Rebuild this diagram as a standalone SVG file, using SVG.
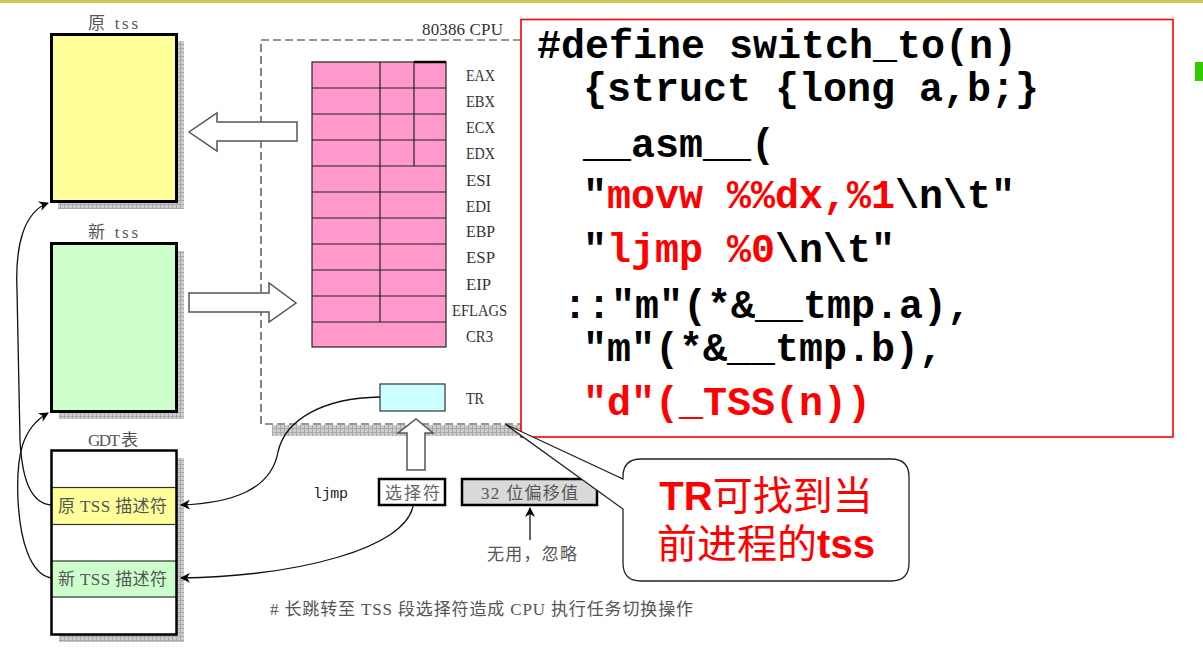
<svg xmlns="http://www.w3.org/2000/svg" width="1203" height="659" viewBox="0 0 1203 659">
<style>
.lbl{font-family:"Liberation Serif","Noto Sans CJK SC",serif;font-size:17px;fill:#555}
.reg{font-family:"Liberation Serif",serif;font-size:16px;fill:#333}
.code{font-family:"Liberation Mono",monospace;font-weight:bold;font-size:40px;fill:#000}
.red{fill:#ff0000}
.box{stroke:#000;stroke-width:3}
.cell{stroke:#222;stroke-width:1.2;fill:none}
.hollow{fill:#fff;stroke:#555;stroke-width:1.5}
.conn{fill:none;stroke:#111;stroke-width:1.3}
</style>
<defs>
<pattern id="hatch" width="4" height="4" patternUnits="userSpaceOnUse"><rect width="4" height="4" fill="#cdcdcd"/><path d="M0,0.5H4M0.5,0V4" stroke="#a9a9a9" stroke-width="1"/></pattern>
<marker id="ah" viewBox="0 0 10 10" refX="9" refY="5" markerWidth="10" markerHeight="10" markerUnits="userSpaceOnUse" orient="auto"><path d="M0,0 L10,5 L0,10 L3,5 z" fill="#000"/></marker>
</defs>
<rect width="1203" height="659" fill="#fff"/>
<rect x="0" y="0" width="1203" height="3" fill="#cccc55"/>
<rect x="1195" y="62" width="8" height="19" fill="#33cc00"/>

<!-- CPU -->
<g id="cpu">
<rect x="272" y="425" width="250" height="11" fill="url(#hatch)"/>
<rect x="261" y="40" width="300" height="384" fill="#fff" stroke="#333" stroke-width="1.2" stroke-dasharray="8,4"/>
<text x="422" y="35" class="lbl" style="fill:#333" textLength="81" lengthAdjust="spacing">80386 CPU</text>
</g>
<g id="registers">
<rect x="312" y="62" width="134" height="285" fill="#ff99cc" stroke="#222" stroke-width="1.2"/>
<path class="cell" d="M312,88H446M312,114H446M312,140H446M312,166H446M312,192H446M312,218H446M312,244H446M312,270H446M312,296H446M312,322H446M380,62V322M414,62V166"/>
<path d="M414,62H446" stroke="#000" stroke-width="2.5"/>
<text class="reg" x="466" y="81" textLength="29" lengthAdjust="spacingAndGlyphs">EAX</text>
<text class="reg" x="466" y="107" textLength="29" lengthAdjust="spacingAndGlyphs">EBX</text>
<text class="reg" x="466" y="133" textLength="29" lengthAdjust="spacingAndGlyphs">ECX</text>
<text class="reg" x="466" y="159" textLength="29" lengthAdjust="spacingAndGlyphs">EDX</text>
<text class="reg" x="466" y="186" textLength="25" lengthAdjust="spacingAndGlyphs">ESI</text>
<text class="reg" x="466" y="212" textLength="25" lengthAdjust="spacingAndGlyphs">EDI</text>
<text class="reg" x="466" y="237" textLength="29" lengthAdjust="spacingAndGlyphs">EBP</text>
<text class="reg" x="466" y="263" textLength="29" lengthAdjust="spacingAndGlyphs">ESP</text>
<text class="reg" x="466" y="290" textLength="25" lengthAdjust="spacingAndGlyphs">EIP</text>
<text class="reg" x="452" y="316" textLength="55" lengthAdjust="spacingAndGlyphs">EFLAGS</text>
<text class="reg" x="466" y="342" textLength="27" lengthAdjust="spacingAndGlyphs">CR3</text>
</g>
<g id="tr">
<rect x="380" y="384" width="65" height="27" fill="#ccffff" stroke="#333" stroke-width="1.2"/>
<text class="reg" x="466" y="404" textLength="18" lengthAdjust="spacingAndGlyphs">TR</text>
</g>

<g id="old-tss">
<rect x="177" y="41" width="7" height="168" fill="url(#hatch)"/>
<rect x="58" y="202" width="126" height="7" fill="url(#hatch)"/>
<rect x="51.5" y="34.5" width="125" height="167" fill="#ffff99" class="box"/>
<text class="lbl" x="88" y="29" textLength="50" lengthAdjust="spacing">原 tss</text>
</g>
<g id="new-tss">
<rect x="177" y="251" width="7" height="168" fill="url(#hatch)"/>
<rect x="59" y="412" width="125" height="7" fill="url(#hatch)"/>
<rect x="51.5" y="243.5" width="125" height="168" fill="#ccffcc" class="box"/>
<text class="lbl" x="88" y="238" textLength="50" lengthAdjust="spacing">新 tss</text>
</g>
<g id="gdt">
<rect x="177" y="458" width="7" height="184" fill="url(#hatch)"/>
<rect x="59" y="635" width="125" height="7" fill="url(#hatch)"/>
<rect x="51.5" y="450.5" width="125" height="184" fill="#fff"/>
<rect x="51.5" y="487.5" width="125" height="37" fill="#ffff99" stroke="#333" stroke-width="1.2"/>
<rect x="51.5" y="561" width="125" height="36" fill="#ccffcc" stroke="#333" stroke-width="1.2"/>
<rect x="51.5" y="450.5" width="125" height="184" fill="none" class="box" style="stroke-width:2.5"/>
<text class="lbl" x="88" y="446" textLength="50" lengthAdjust="spacing">GDT 表</text>
<text class="lbl" x="58" y="512" textLength="109" lengthAdjust="spacing">原 TSS 描述符</text>
<text class="lbl" x="58" y="585" textLength="109" lengthAdjust="spacing">新 TSS 描述符</text>
</g>

<g id="ljmp">
<text x="313" y="498" style="font-family:'Liberation Mono',monospace;font-size:15px;fill:#222" textLength="35" lengthAdjust="spacing">ljmp</text>
</g>
<g id="selector">
<rect x="379" y="479" width="66" height="26" fill="#fff" stroke="#000" stroke-width="2.5"/>
<text class="lbl" x="385" y="499" style="fill:#666" textLength="55" lengthAdjust="spacing">选择符</text>
</g>
<g id="offset">
<rect x="462" y="479" width="135" height="26" fill="#d9d9d9" stroke="#000" stroke-width="2.5"/>
<text class="lbl" x="481" y="499" textLength="97" lengthAdjust="spacing">32 位偏移值</text>
</g>
<g id="unused">
<text class="lbl" x="487" y="560" textLength="90" lengthAdjust="spacing">无用，忽略</text>
</g>
<g id="caption">
<text class="lbl" x="270" y="615" textLength="423" lengthAdjust="spacing">#  长跳转至 TSS 段选择符造成 CPU 执行任务切换操作</text>
</g>

<g id="connectors">
<polygon class="hollow" points="297,122 217,122 217,113 189,132 217,151 217,141 297,141"/>
<polygon class="hollow" points="189,293 269,293 269,283 296,303 269,322 269,312 189,312"/>
<polygon class="hollow" points="407,470 407,433 398,433 416,419 433,433 425,433 425,470"/>
<path class="conn" d="M380,397 C322,398 285,420 278,452 C271,490 232,503 181,505" marker-end="url(#ah)"/>
<path class="conn" d="M413,506 C405,548 300,576 181,578" marker-end="url(#ah)"/>
<path class="conn" d="M51,505 C30,503 22,478 20,440 L17,290 C15,245 24,212 48,203" marker-end="url(#ah)"/>
<path class="conn" d="M51,578 C30,574 20,540 18,500 C16,455 22,428 48,413" marker-end="url(#ah)"/>
<path class="conn" d="M530,540 V508" marker-end="url(#ah)"/>
</g>

<g id="code">
<rect x="521" y="19.5" width="652" height="417.5" fill="#fff" stroke="#ff0000" stroke-width="1.6"/>
<text class="code" x="537" y="58">#define switch_to(n)</text>
<text class="code" x="583" y="101">{struct {long a,b;}</text>
<text class="code" x="583" y="157">__asm__(</text>
<text class="code" x="583" y="208">"<tspan class="red">movw %%dx,%1</tspan>\n\t"</text>
<text class="code" x="583" y="262">"<tspan class="red">ljmp %0</tspan>\n\t"</text>
<text class="code" x="563" y="318">::"m"(*&amp;__tmp.a),</text>
<text class="code" x="583" y="361">"m"(*&amp;__tmp.b),</text>
<text class="code red" x="583" y="415">"d"(_TSS(n))</text>
</g>

<g id="callout">
<path d="M641,459 H891 Q909,459 909,477 V563 Q909,581 891,581 H641 Q623,581 623,563 V509 L505,424 L623,479 V477 Q623,459 641,459 Z" fill="#fff" stroke="#222" stroke-width="1.3"/>
<text x="766" y="510" text-anchor="middle" style="font-family:'Liberation Sans','Noto Sans CJK SC',sans-serif;font-size:40px;fill:#ff0000"><tspan font-weight="bold">TR</tspan>可找到当</text>
<text x="766" y="558" text-anchor="middle" style="font-family:'Liberation Sans','Noto Sans CJK SC',sans-serif;font-size:40px;fill:#ff0000">前进程的<tspan font-weight="bold">tss</tspan></text>
</g>
</svg>
